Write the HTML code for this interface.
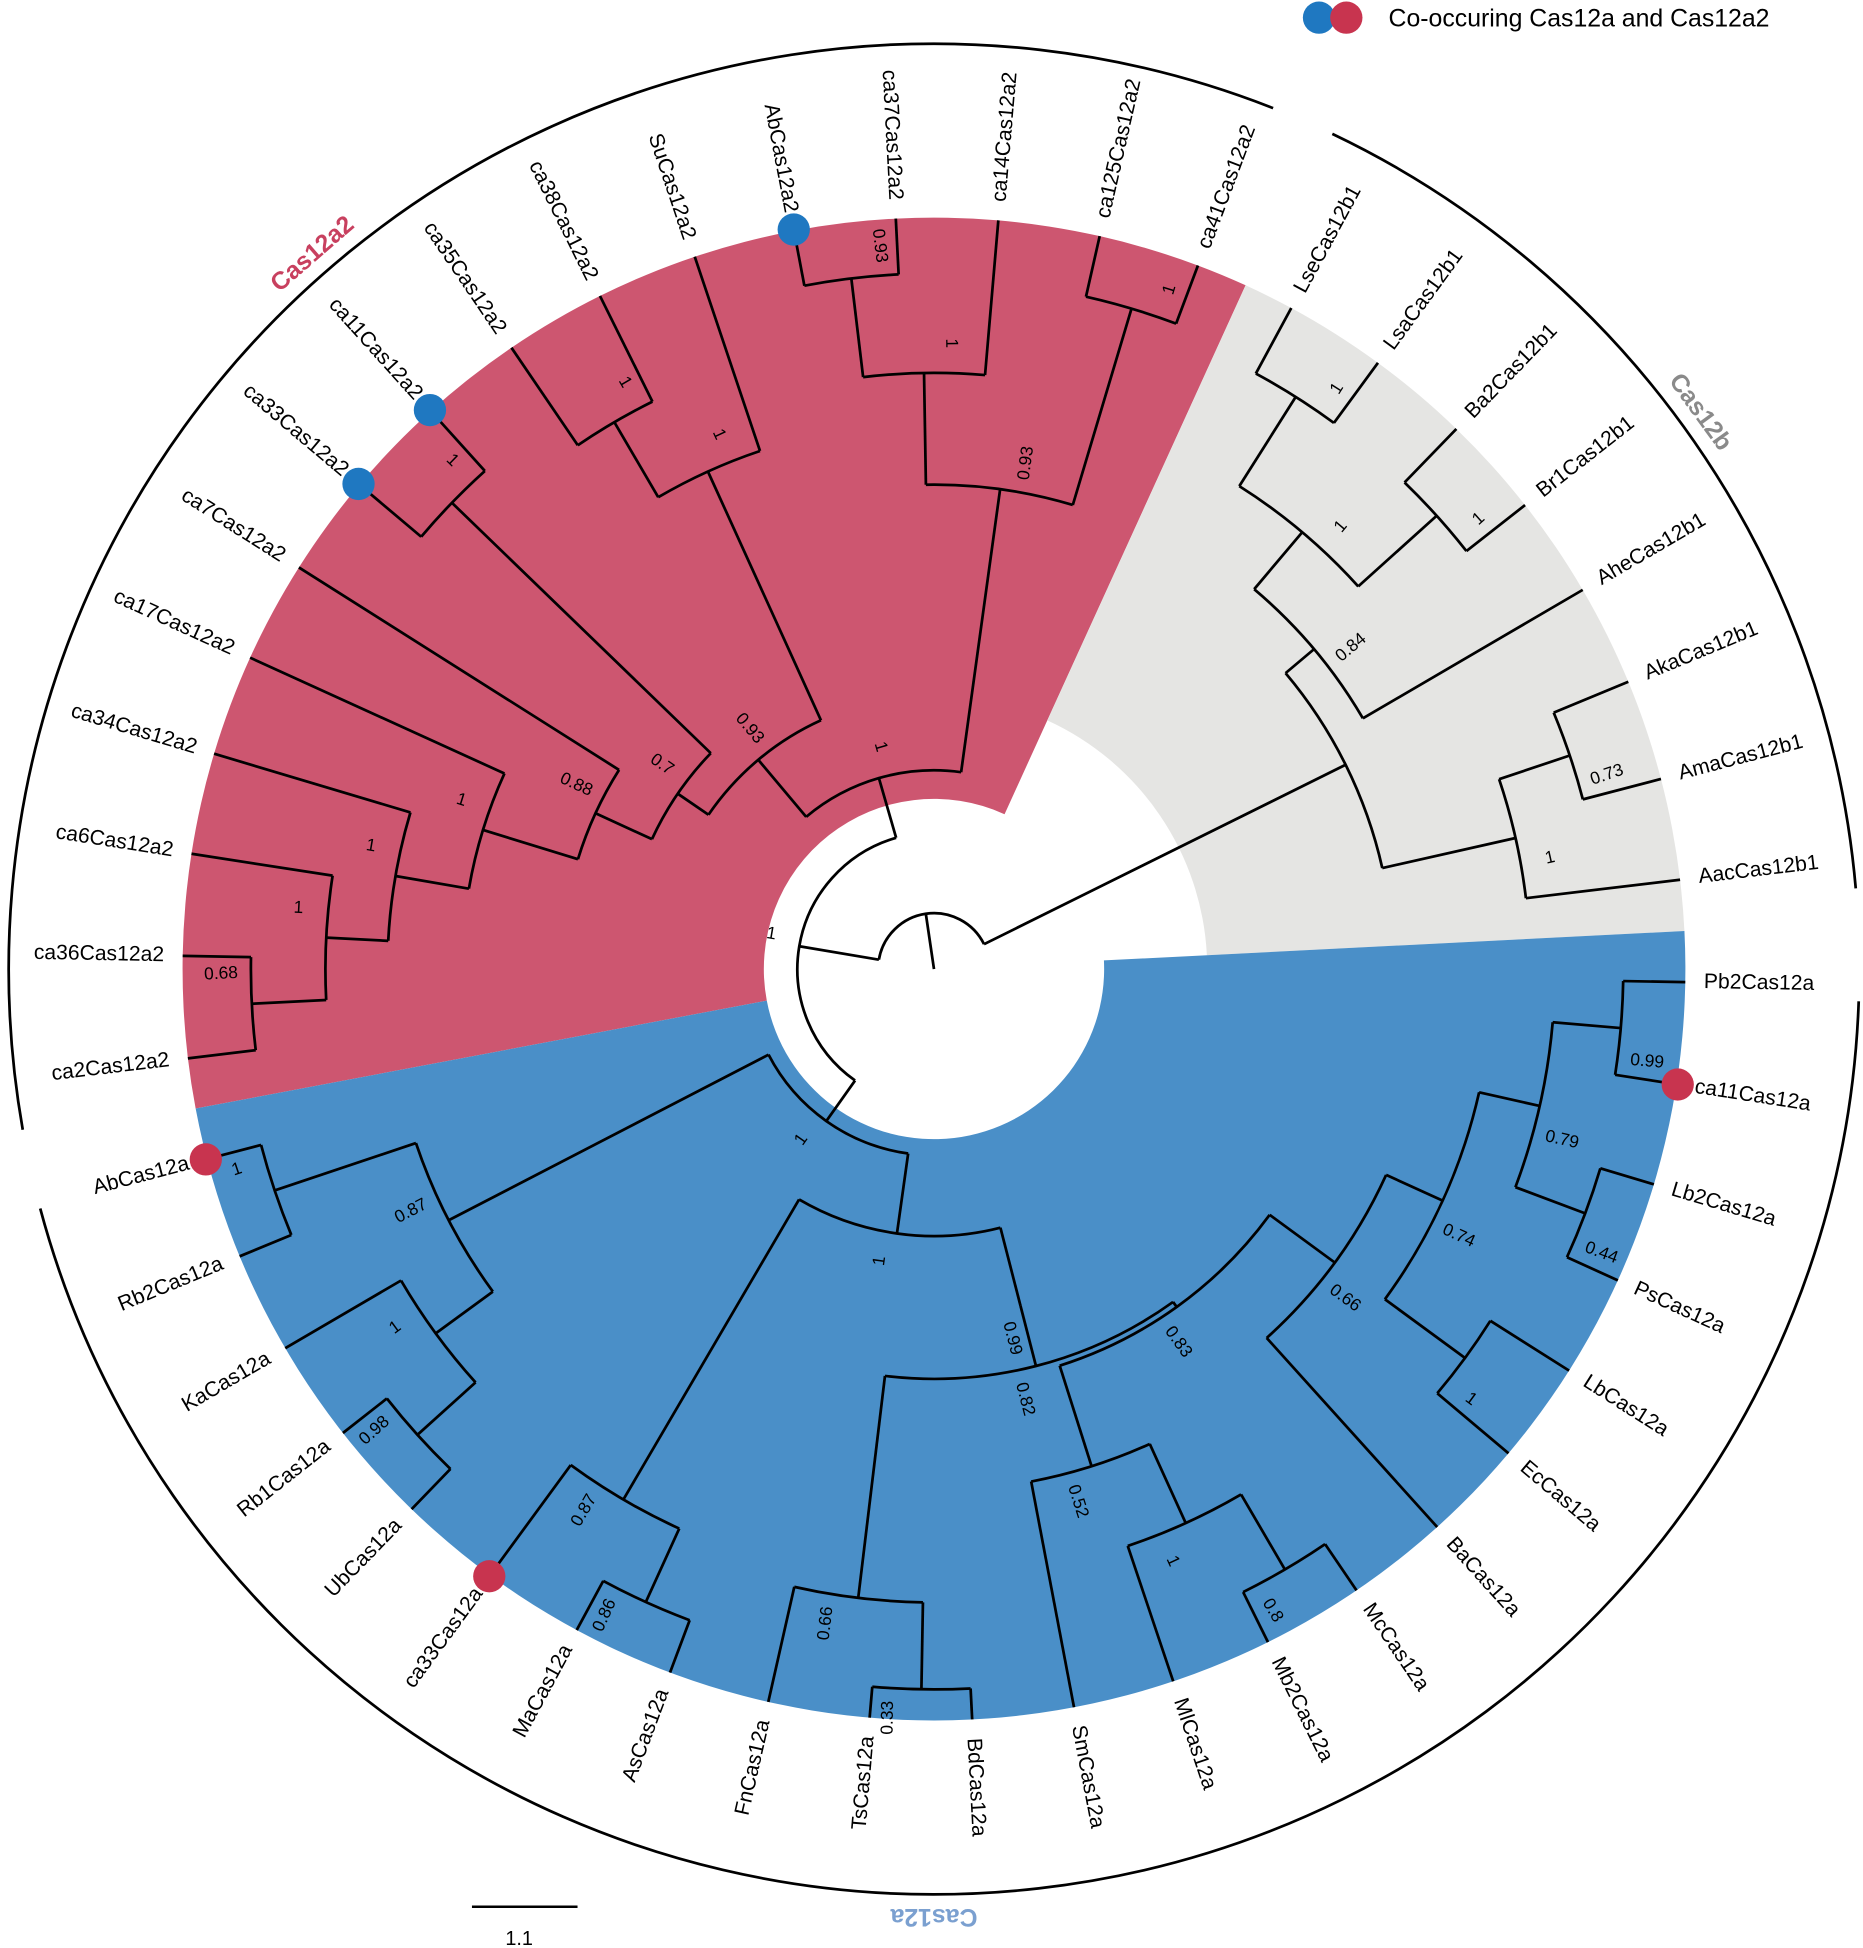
<!DOCTYPE html>
<html><head><meta charset="utf-8"><style>
html,body{margin:0;padding:0;background:#fff}
svg{display:block}
text{font-family:"Liberation Sans",Arial,sans-serif}
</style></head><body>
<svg id="s" width="1863" height="1948" viewBox="0 0 1500 1568" xmlns="http://www.w3.org/2000/svg"></svg>
<script>
const S=document.getElementById('s');
const CX=752,CY=780,R=605;
const names=["Pb2Cas12a","ca11Cas12a","Lb2Cas12a","PsCas12a","LbCas12a","EcCas12a","BaCas12a","McCas12a","Mb2Cas12a","MlCas12a","SmCas12a","BdCas12a","TsCas12a","FnCas12a","AsCas12a","MaCas12a","ca33Cas12a","UbCas12a","Rb1Cas12a","KaCas12a","Rb2Cas12a","AbCas12a",
"ca2Cas12a2","ca36Cas12a2","ca6Cas12a2","ca34Cas12a2","ca17Cas12a2","ca7Cas12a2","ca33Cas12a2","ca11Cas12a2","ca35Cas12a2","ca38Cas12a2","SuCas12a2","AbCas12a2","ca37Cas12a2","ca14Cas12a2","ca125Cas12a2","ca41Cas12a2",
"LseCas12b1","LsaCas12b1","Ba2Cas12b1","Br1Cas12b1","AheCas12b1","AkaCas12b1","AmaCas12b1","AacCas12b1"];
const ST=360/46;
const ang=i=>1+i*ST;
const rad=a=>a*Math.PI/180;
const P=(r,a)=>[CX+r*Math.cos(rad(a)),CY+r*Math.sin(rad(a))];
let out=[];
function sector(r0,r1,a0,a1,fill){
  const [x0,y0]=P(r1,a0),[x1,y1]=P(r1,a1),[x2,y2]=P(r0,a1),[x3,y3]=P(r0,a0);
  const L=(a1-a0)>180?1:0;
  out.push(`<path d="M${x0},${y0}A${r1},${r1} 0 ${L} 1 ${x1},${y1}L${x2},${y2}A${r0},${r0} 0 ${L} 0 ${x3},${y3}Z" fill="${fill}"/>`);
}
function arc(r,a0,a1,extra){
  const [x0,y0]=P(r,a0),[x1,y1]=P(r,a1);const L=(a1-a0)>180?1:0;
  out.push(`<path d="M${x0},${y0}A${r},${r} 0 ${L} 1 ${x1},${y1}" fill="none" stroke="#000" stroke-width="${extra||2.2}"/>`);
}
function line(r0,r1,a){const [x0,y0]=P(r0,a),[x1,y1]=P(r1,a);out.push(`<line x1="${x0}" y1="${y0}" x2="${x1}" y2="${y1}" stroke="#000" stroke-width="2.2"/>`);}
sector(137,R,169.3,294.5,"#cd5670");
sector(220,R,294.5,357.1,"#e5e5e3");
sector(137,R,-2.9,169.3,"#4a8fc8");
const L=i=>({leaf:i});
const N=(r,lab,ch)=>({r,lab,ch});
const blue=N(150,"1",[
 N(215,"1",[
   N(280,"0.99",[
     N(330,"0.82",[
       N(335,"0.83",[
         N(400,"0.66",[
           N(450,"0.74",[
             N(500,"0.79",[N(555,"0.99",[L(0),L(1)]),N(560,"0.44",[L(2),L(3)])]),
             N(530,"1",[L(4),L(5)])]),
           L(6)]),
         N(420,"0.52",[N(490,"1",[N(560,"0.8",[L(7),L(8)]),L(9)]),L(10)])
       ]),
       N(510,"0.66",[N(580,"0.33",[L(11),L(12)]),L(13)])
     ])
   ]),
   N(495,"0.87",[N(560,"0.86",[L(14),L(15)]),L(16)])
 ]),
 N(440,"0.87",[N(497,"1",[N(560,"0.98",[L(17),L(18)]),L(19)]),N(560,"1",[L(20),L(21)])])
]);
const red=N(160,"1",[
 N(220,"0.93",[
   N(250,"0.7",[
     N(300,"0.88",[N(380,"1",[N(440,"1",[N(490,"1",[N(550,"0.68",[L(22),L(23)]),L(24)]),L(25)]),L(26)]),L(27)]),
     N(540,"1",[L(28),L(29)])
   ]),
   N(440,"1",[N(510,"1",[L(30),L(31)]),L(32)])
 ]),
 N(390,"0.93",[
   N(480,"1",[N(560,"0.93",[L(33),L(34)]),L(35)]),
   N(555,"1",[L(36),L(37)])
 ])
]);
const gray=N(370,"",[
 N(400,"0.84",[N(460,"1",[N(545,"1",[L(38),L(39)]),N(545,"1",[L(40),L(41)])]),L(42)]),
 N(480,"1",[N(540,"0.73",[L(43),L(44)]),L(45)])
]);
const A=N(110,"1",[blue,red]);
const root=N(45,"",[A,gray]);
function lay(n){
  if(n.leaf!==undefined){n.a=ang(n.leaf);n.r=R;return n.a;}
  n.ch.forEach(lay);
  n.a=(n.ch[0].a+n.ch[n.ch.length-1].a)/2;return n.a;
}
lay(root);
function draw(n){
  if(n.leaf!==undefined)return;
  const a0=n.ch[0].a,a1=n.ch[n.ch.length-1].a;
  arc(n.r,a0,a1);
  n.ch.forEach(c=>{line(n.r,c.r,c.a);draw(c);});
  if(n.lab){const [x,y]=P(n.r+24,n.a+2.5);let rot=n.a;if(Math.cos(rad(n.a))<0)rot+=180;
    out.push(`<text x="${x}" y="${y}" font-size="14" text-anchor="middle" dominant-baseline="middle" transform="rotate(${rot} ${x} ${y})">${n.lab}</text>`);}
}
line(0,45,root.a);
draw(root);
names.forEach((nm,i)=>{const a=ang(i);const [x,y]=P(620,a);
  if(Math.cos(rad(a))>=0)out.push(`<text x="${x}" y="${y}" font-size="17" dominant-baseline="middle" transform="rotate(${a} ${x} ${y})">${nm}</text>`);
  else out.push(`<text x="${x}" y="${y}" font-size="17" text-anchor="end" dominant-baseline="middle" transform="rotate(${a-180} ${x} ${y})">${nm}</text>`);
});
[[33,"#1f78c1"],[29,"#1f78c1"],[28,"#1f78c1"],[21,"#c8344f"],[16,"#c8344f"],[1,"#c8344f"]].forEach(([i,c])=>{const [x,y]=P(606,ang(i));out.push(`<circle cx="${x}" cy="${y}" r="13" fill="${c}"/>`);});
arc(745,170,291.5,2.2);arc(745,295.5,355,2.2);arc(745,2,165,2.2);
function clab(t,a,c){const [x,y]=P(762,a);out.push(`<text x="${x}" y="${y}" font-size="20" font-weight="bold" fill="${c}" text-anchor="middle" dominant-baseline="middle" transform="rotate(${a+90} ${x} ${y})">${t}</text>`);}
clab("Cas12a2",229,"#c8405f");clab("Cas12b",324,"#8a8a8a");clab("Cas12a",90,"#7ba0d0");
out.push(`<circle cx="1062" cy="14" r="13" fill="#1f78c1"/><circle cx="1084" cy="14" r="13" fill="#c8344f"/><text x="1118" y="21" font-size="20">Co-occuring Cas12a and Cas12a2</text>`);
out.push(`<line x1="380" y1="1535" x2="465" y2="1535" stroke="#000" stroke-width="2"/><text x="418" y="1566" font-size="16" text-anchor="middle">1.1</text>`);
S.innerHTML=out.join("");
</script>
</body></html>
